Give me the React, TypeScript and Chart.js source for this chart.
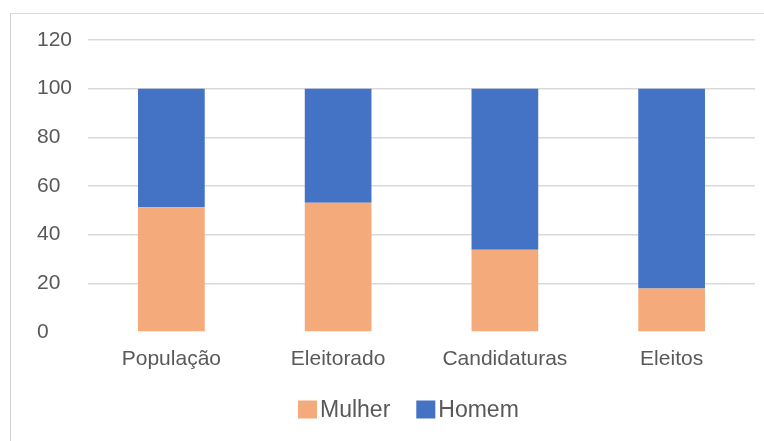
import React, { useEffect, useRef } from "react";
import { Chart, registerables } from "chart.js";

Chart.register(...registerables);

const categories = ["População", "Eleitorado", "Candidaturas", "Eleitos"];
const mulher = [51.3, 53.1, 33.8, 17.9];
const homem = [48.7, 46.9, 66.2, 82.1];
const yTicks = [0, 20, 40, 60, 80, 100, 120];

const FONT = "'Liberation Sans', Arial, sans-serif";
const TEXT = "#595959";

const legendPlugin = {
  id: "excelLegend",
  afterDraw(chart: any) {
    const ctx = chart.ctx;
    ctx.save();
    ctx.font = `23px ${FONT}`;
    ctx.textBaseline = "middle";
    ctx.textAlign = "left";
    let x = 298;
    const cy = 409.5;
    chart.data.datasets.forEach((ds: any) => {
      ctx.fillStyle = ds.backgroundColor;
      ctx.fillRect(x, cy - 9, 19, 18);
      x += 19 + 3;
      ctx.fillStyle = TEXT;
      ctx.fillText(ds.label, x, cy + 1);
      x += ctx.measureText(ds.label).width + 26;
    });
    ctx.restore();
  },
};

export default function App() {
  const ref = useRef<HTMLCanvasElement | null>(null);

  useEffect(() => {
    document.body.style.margin = "0";
    const canvas = ref.current;
    if (!canvas) return;
    const chart = new Chart(canvas, {
      type: "bar",
      data: {
        labels: categories,
        datasets: [
          {
            label: "Mulher",
            data: mulher,
            backgroundColor: "#F4AA7A",
            categoryPercentage: 1,
            barPercentage: 0.4,
          },
          {
            label: "Homem",
            data: homem,
            backgroundColor: "#4472C4",
            categoryPercentage: 1,
            barPercentage: 0.4,
          },
        ],
      },
      plugins: [legendPlugin],
      options: {
        responsive: false,
        animation: false,
        layout: { padding: { left: 37, right: 9, top: 40, bottom: 61 } },
        plugins: {
          tooltip: { enabled: false },
          legend: { display: false },
        },
        scales: {
          x: {
            stacked: true,
            afterFit: (scale: any) => {
              scale.height = 48;
            },
            grid: { display: false },
            border: { display: false },
            ticks: {
              color: TEXT,
              font: { family: FONT, size: 21 },
              padding: 7,
            },
          },
          y: {
            stacked: true,
            min: 0,
            max: 120,
            afterFit: (scale: any) => {
              scale.width = 51;
            },
            afterBuildTicks: (scale: any) => {
              scale.ticks = yTicks.map((v) => ({ value: v }));
            },
            grid: {
              color: (ctx: any) => (ctx.tick && ctx.tick.value === 0 ? "rgba(0,0,0,0)" : "#d9d9d9"),
              lineWidth: 1.5,
              drawTicks: false,
            },
            border: { display: false },
            ticks: {
              color: TEXT,
              font: { family: FONT, size: 21 },
              crossAlign: "far",
            },
          },
        },
      },
    });
    return () => chart.destroy();
  }, []);

  return (
    <div style={{ position: "relative", width: 764, height: 441, overflow: "hidden", background: "#fff" }}>
      <div
        style={{
          position: "absolute",
          left: 10,
          top: 13,
          width: 800,
          height: 500,
          borderLeft: "1px solid #d0d0d0",
          borderTop: "1px solid #d9d9d9",
        }}
      />
      <canvas ref={ref} width={764} height={441} style={{ position: "absolute", left: 0, top: 0 }} />
    </div>
  );
}
